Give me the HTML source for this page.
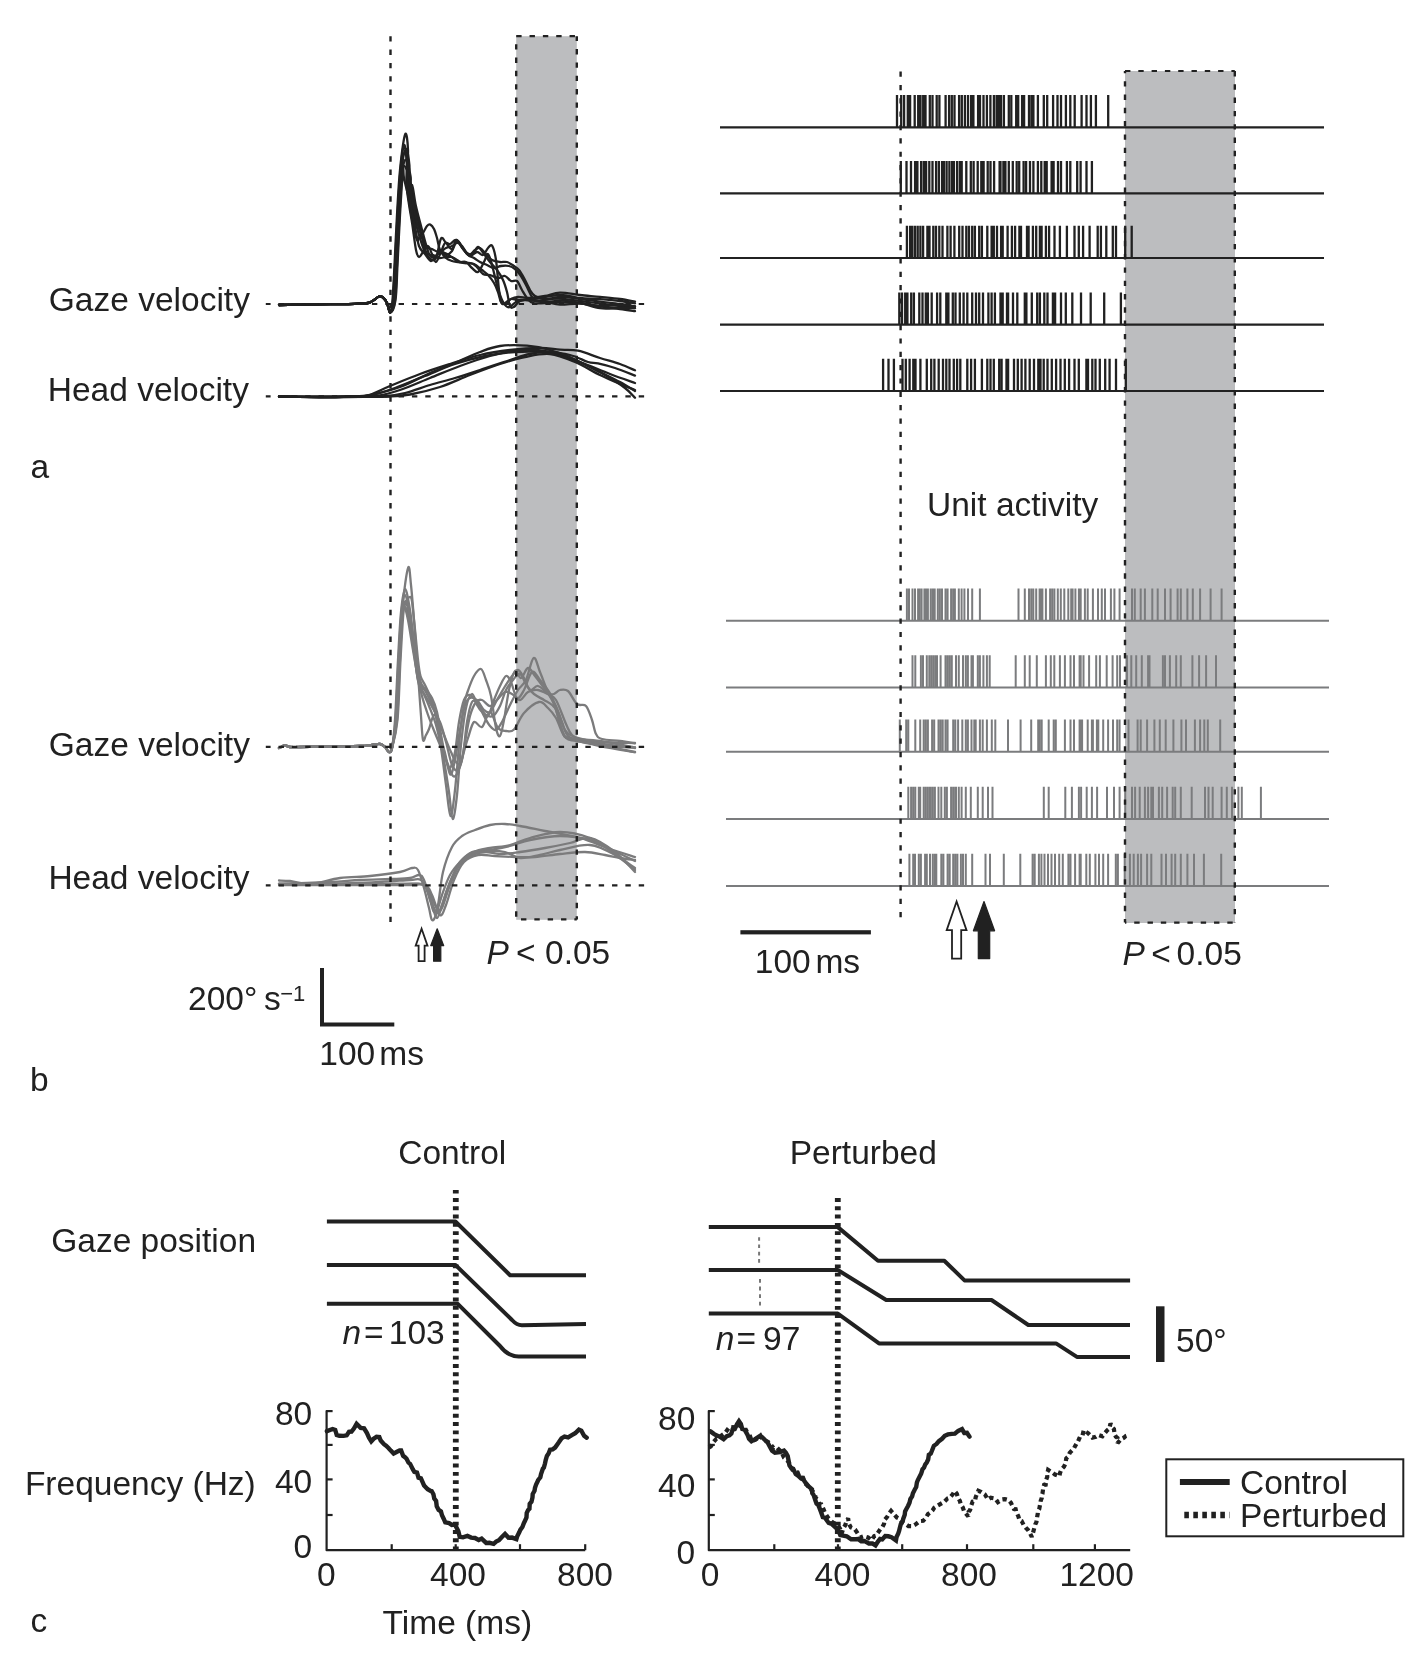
<!DOCTYPE html><html><head><meta charset="utf-8"><style>html,body{margin:0;padding:0;background:#fff;overflow:hidden}svg{display:block;will-change:transform}</style></head><body>
<svg width="1424" height="1667" viewBox="0 0 1424 1667" style="font-family:'Liberation Sans',sans-serif">
<rect width="1424" height="1667" fill="#fff"/>
<rect x="516.2" y="36.2" width="60.6" height="883.6" fill="#bcbdbf"/>
<rect x="1125" y="71" width="110" height="852" fill="#bcbdbf"/>
<path d="M279,305 C282.5,304.93 291.5,304.73 300,304.6 C308.5,304.47 320.83,304.33 330,304.2 C339.17,304.07 348.67,304 355,303.8 C361.33,303.6 364.83,303.63 368,303 C371.17,302.37 372.17,301.08 374,300 C375.83,298.92 377.5,296.92 379,296.5 C380.5,296.08 381.67,296.42 383,297.5 C384.33,298.58 385.77,300.5 387,303 C388.23,305.5 389.48,313 390.4,312.5 C391.32,312 391.82,307.92 392.5,300 C393.18,292.08 393.75,279.17 394.5,265 C395.25,250.83 396.08,230.83 397,215 C397.92,199.17 398.63,183.47 400,170 C401.37,156.53 403.87,137.5 405.2,134.2 C406.53,130.9 407.7,141.73 408,150.2 C408.3,158.67 406.72,175.87 407,185 C407.28,194.13 408.7,198.5 409.7,205 C410.7,211.5 411.78,218.17 413,224 C414.22,229.83 415.83,238 417,240 C418.17,242 418.92,237.33 420,236 C421.08,234.67 422.33,233.67 423.5,232 C424.67,230.33 425.87,227.23 427,226 C428.13,224.77 429.13,224.1 430.3,224.6 C431.47,225.1 432.88,226.77 434,229 C435.12,231.23 436,234.5 437,238 C438,241.5 438.5,246.67 440,250 C441.5,253.33 444,256.17 446,258 C448,259.83 450,260.33 452,261 C454,261.67 455.67,261.67 458,262 C460.33,262.33 463.33,262.67 466,263 C468.67,263.33 471.33,262.83 474,264 C476.67,265.17 479.67,268.17 482,270 C484.33,271.83 486,272.83 488,275 C490,277.17 492.33,280.17 494,283 C495.67,285.83 496.83,288.83 498,292 C499.17,295.17 499.83,300 501,302 C502.17,304 503.33,304.5 505,304 C506.67,303.5 508.83,300.17 511,299 C513.17,297.83 514.83,297.17 518,297 C521.17,296.83 525.5,298.17 530,298 C534.5,297.83 540,296.88 545,296 C550,295.12 554.17,292.87 560,292.7 C565.83,292.53 573.33,294.3 580,295 C586.67,295.7 593.33,296.23 600,296.9 C606.67,297.57 614.17,298.22 620,299 C625.83,299.78 632.5,301.17 635,301.6" fill="none" stroke="#212121" stroke-width="2.3" stroke-linejoin="round" stroke-linecap="round" />
<path d="M279,305 C282.5,304.93 291.5,304.73 300,304.6 C308.5,304.47 320.83,304.33 330,304.2 C339.17,304.07 348.67,304 355,303.8 C361.33,303.6 364.83,303.63 368,303 C371.17,302.37 372.17,301.08 374,300 C375.83,298.92 377.5,296.92 379,296.5 C380.5,296.08 381.67,296.42 383,297.5 C384.33,298.58 385.77,300.5 387,303 C388.23,305.5 389.4,313 390.4,312.5 C391.4,312 392.23,307.92 393,300 C393.77,292.08 394.25,279.17 395,265 C395.75,250.83 396.58,230.83 397.5,215 C398.42,199.17 399.42,181.67 400.5,170 C401.58,158.33 402.98,146.5 404,145 C405.02,143.5 406.23,154.33 406.65,161 C407.07,167.67 406.09,177.67 406.5,185 C406.91,192.33 408.14,198.5 409.1,205 C410.06,211.5 411.1,216.5 412.25,224 C413.4,231.5 414.88,244.5 416,250 C417.12,255.5 417.83,256.67 419,257 C420.17,257.33 421.5,253.83 423,252 C424.5,250.17 426.5,245.67 428,246 C429.5,246.33 430.67,251.33 432,254 C433.33,256.67 434.5,262.33 436,262 C437.5,261.67 439.5,255.17 441,252 C442.5,248.83 443.5,244.33 445,243 C446.5,241.67 448.17,244.5 450,244 C451.83,243.5 454,239.67 456,240 C458,240.33 460.17,243.83 462,246 C463.83,248.17 465.17,251.67 467,253 C468.83,254.33 471.17,255 473,254 C474.83,253 476.17,247 478,247 C479.83,247 482,251.5 484,254 C486,256.5 487.83,259.33 490,262 C492.17,264.67 494.83,267 497,270 C499.17,273 501.33,276.33 503,280 C504.67,283.67 505.83,287.67 507,292 C508.17,296.33 508.83,303.5 510,306 C511.17,308.5 512.33,307.83 514,307 C515.67,306.17 517,302.33 520,301 C523,299.67 525.33,300 532,299 C538.67,298 552,295.17 560,295 C568,294.83 573.33,297.3 580,298 C586.67,298.7 593.33,298.7 600,299.2 C606.67,299.7 614.17,300.3 620,301 C625.83,301.7 632.5,303 635,303.4" fill="none" stroke="#212121" stroke-width="2.3" stroke-linejoin="round" stroke-linecap="round" />
<path d="M279,305 C282.5,304.93 291.5,304.73 300,304.6 C308.5,304.47 320.83,304.33 330,304.2 C339.17,304.07 348.67,304 355,303.8 C361.33,303.6 364.83,303.63 368,303 C371.17,302.37 372.17,301.08 374,300 C375.83,298.92 377.5,296.92 379,296.5 C380.5,296.08 381.67,296.42 383,297.5 C384.33,298.58 385.77,300.5 387,303 C388.23,305.5 389.23,313 390.4,312.5 C391.57,312 393.07,307.92 394,300 C394.93,292.08 395.25,279.17 396,265 C396.75,250.83 397.58,230.83 398.5,215 C399.42,199.17 400.25,181 401.5,170 C402.75,159 404.68,149.83 406,149 C407.32,148.17 408.9,159 409.4,165 C409.9,171 408.55,178.33 409,185 C409.45,191.67 410.93,198.5 412.1,205 C413.27,211.5 414.02,216.5 416,224 C417.98,231.5 421.6,244.17 424,250 C426.4,255.83 428.4,257.67 430.4,259 C432.4,260.33 434.23,261.4 436,258 C437.77,254.6 439.33,241.1 441,238.6 C442.67,236.1 444.17,241.27 446,243 C447.83,244.73 450.25,249.5 452,249 C453.75,248.5 454.83,240.33 456.5,240 C458.17,239.67 460.08,244.5 462,247 C463.92,249.5 466,253.17 468,255 C470,256.83 472,256.83 474,258 C476,259.17 477.83,260.83 480,262 C482.17,263.17 484.67,264 487,265 C489.33,266 491.67,267.83 494,268 C496.33,268.17 498.5,266.33 501,266 C503.5,265.67 506.67,265.5 509,266 C511.33,266.5 513,267.33 515,269 C517,270.67 519,273 521,276 C523,279 525.17,283.5 527,287 C528.83,290.5 530.17,294.67 532,297 C533.83,299.33 533.33,301.02 538,301 C542.67,300.98 553,297.23 560,296.9 C567,296.57 573.33,298.22 580,299 C586.67,299.78 593.33,300.77 600,301.6 C606.67,302.43 614.17,303.2 620,304 C625.83,304.8 632.5,306 635,306.4" fill="none" stroke="#212121" stroke-width="2.3" stroke-linejoin="round" stroke-linecap="round" />
<path d="M279,305 C282.5,304.93 291.5,304.73 300,304.6 C308.5,304.47 320.83,304.33 330,304.2 C339.17,304.07 348.67,304 355,303.8 C361.33,303.6 364.83,303.63 368,303 C371.17,302.37 372.17,301.08 374,300 C375.83,298.92 377.5,296.92 379,296.5 C380.5,296.08 381.67,296.42 383,297.5 C384.33,298.58 385.77,300.5 387,303 C388.23,305.5 389.32,313 390.4,312.5 C391.48,312 392.65,307.92 393.5,300 C394.35,292.08 394.75,279.17 395.5,265 C396.25,250.83 397.08,230.83 398,215 C398.92,199.17 399.83,180.5 401,170 C402.17,159.5 403.82,152.33 405,152 C406.18,151.67 407.6,162.5 408.1,168 C408.6,173.5 407.53,178.83 408,185 C408.47,191.17 409.82,198.5 410.9,205 C411.98,211.5 413.15,217.17 414.5,224 C415.85,230.83 417.25,241 419,246 C420.75,251 423,251.5 425,254 C427,256.5 429.17,260.67 431,261 C432.83,261.33 434.33,257.67 436,256 C437.67,254.33 439.33,251.17 441,251 C442.67,250.83 444.17,255 446,255 C447.83,255 450.17,253.33 452,251 C453.83,248.67 455.17,241.33 457,241 C458.83,240.67 461,246.67 463,249 C465,251.33 467,254.83 469,255 C471,255.17 473.17,251.17 475,250 C476.83,248.83 478.17,247.33 480,248 C481.83,248.67 484,252 486,254 C488,256 489.67,258.67 492,260 C494.33,261.33 497.5,261.67 500,262 C502.5,262.33 504.67,261.33 507,262 C509.33,262.67 512,264.67 514,266 C516,267.33 517.33,268 519,270 C520.67,272 522.17,274.67 524,278 C525.83,281.33 528.17,287 530,290 C531.83,293 532.5,294.5 535,296 C537.5,297.5 540.83,298.57 545,299 C549.17,299.43 554.17,298.27 560,298.6 C565.83,298.93 573.33,300.2 580,301 C586.67,301.8 593.33,302.57 600,303.4 C606.67,304.23 614.17,305.2 620,306 C625.83,306.8 632.5,307.83 635,308.2" fill="none" stroke="#212121" stroke-width="2.3" stroke-linejoin="round" stroke-linecap="round" />
<path d="M279,305 C282.5,304.93 291.5,304.73 300,304.6 C308.5,304.47 320.83,304.33 330,304.2 C339.17,304.07 348.67,304 355,303.8 C361.33,303.6 364.83,303.63 368,303 C371.17,302.37 372.17,301.08 374,300 C375.83,298.92 377.5,296.92 379,296.5 C380.5,296.08 381.67,296.42 383,297.5 C384.33,298.58 385.77,300.5 387,303 C388.23,305.5 389.07,313 390.4,312.5 C391.73,312 393.9,307.92 395,300 C396.1,292.08 396.25,279.17 397,265 C397.75,250.83 398.58,230.83 399.5,215 C400.42,199.17 401.33,179.17 402.5,170 C403.67,160.83 405.17,159 406.5,160 C407.83,161 409.75,171.83 410.5,176 C411.25,180.17 410.33,180.17 411,185 C411.67,189.83 413.17,198.5 414.5,205 C415.83,211.5 417.08,216.17 419,224 C420.92,231.83 423.67,246.83 426,252 C428.33,257.17 430.83,254 433,255 C435.17,256 436.83,257.67 439,258 C441.17,258.33 443.83,257.17 446,257 C448.17,256.83 450.17,256.5 452,257 C453.83,257.5 455.17,259 457,260 C458.83,261 460.83,262.5 463,263 C465.17,263.5 467.83,262.5 470,263 C472.17,263.5 473.83,264.17 476,266 C478.17,267.83 480.67,272.5 483,274 C485.33,275.5 487.5,274.33 490,275 C492.5,275.67 495.5,277.83 498,278 C500.5,278.17 502.83,275.5 505,276 C507.17,276.5 509,280.17 511,281 C513,281.83 515.17,279.5 517,281 C518.83,282.5 520.33,287.17 522,290 C523.67,292.83 525.17,295.83 527,298 C528.83,300.17 530,302.17 533,303 C536,303.83 540.5,303.43 545,303 C549.5,302.57 554.17,300.4 560,300.4 C565.83,300.4 573.33,302 580,303 C586.67,304 593.33,305.4 600,306.4 C606.67,307.4 614.17,308.2 620,309 C625.83,309.8 632.5,310.83 635,311.2" fill="none" stroke="#212121" stroke-width="2.3" stroke-linejoin="round" stroke-linecap="round" />
<path d="M279,305 C282.5,304.93 291.5,304.73 300,304.6 C308.5,304.47 320.83,304.33 330,304.2 C339.17,304.07 348.67,304 355,303.8 C361.33,303.6 364.83,303.63 368,303 C371.17,302.37 372.17,301.08 374,300 C375.83,298.92 377.5,296.92 379,296.5 C380.5,296.08 381.67,296.42 383,297.5 C384.33,298.58 385.77,300.5 387,303 C388.23,305.5 389.15,313 390.4,312.5 C391.65,312 393.48,307.92 394.5,300 C395.52,292.08 395.75,279.17 396.5,265 C397.25,250.83 398.08,230.83 399,215 C399.92,199.17 400.67,177.5 402,170 C403.33,162.5 405.55,167.33 407,170 C408.45,172.67 410.2,183.5 410.7,186 C411.2,188.5 409.57,181.83 410,185 C410.43,188.17 412.05,198.5 413.3,205 C414.55,211.5 415.38,217.17 417.5,224 C419.62,230.83 423.58,241.83 426,246 C428.42,250.17 429.83,248 432,249 C434.17,250 436.67,252.17 439,252 C441.33,251.83 443.83,249 446,248 C448.17,247 450,246.83 452,246 C454,245.17 456,242.33 458,243 C460,243.67 462,247.83 464,250 C466,252.17 467.83,255.67 470,256 C472.17,256.33 474.83,252.17 477,252 C479.17,251.83 481.17,255.67 483,255 C484.83,254.33 486.47,249.53 488,248 C489.53,246.47 490.87,243.8 492.2,245.8 C493.53,247.8 494.87,252.63 496,260 C497.13,267.37 498.08,282.83 499,290 C499.92,297.17 500.5,300.83 501.5,303 C502.5,305.17 503.42,303.67 505,303 C506.58,302.33 508.83,299.5 511,299 C513.17,298.5 514.83,299.83 518,300 C521.17,300.17 523,299.63 530,300 C537,300.37 551.67,301.7 560,302.2 C568.33,302.7 573.33,302 580,303 C586.67,304 593.33,307.37 600,308.2 C606.67,309.03 614.17,308 620,308 C625.83,308 632.5,308.17 635,308.2" fill="none" stroke="#212121" stroke-width="2.3" stroke-linejoin="round" stroke-linecap="round" />
<path d="M279,305 C282.5,304.93 291.5,304.73 300,304.6 C308.5,304.47 320.83,304.33 330,304.2 C339.17,304.07 348.67,304 355,303.8 C361.33,303.6 364.83,303.63 368,303 C371.17,302.37 372.17,301.08 374,300 C375.83,298.92 377.5,296.92 379,296.5 C380.5,296.08 381.67,296.42 383,297.5 C384.33,298.58 385.77,300.5 387,303 C388.23,305.5 388.98,313 390.4,312.5 C391.82,312 394.32,307.92 395.5,300 C396.68,292.08 396.75,279.17 397.5,265 C398.25,250.83 399.08,230.83 400,215 C400.92,199.17 402.33,176.17 403,170 C403.67,163.83 403.12,174 404,178 C404.88,182 406.97,192.83 408.3,194 C409.63,195.17 410.77,183.17 412,185 C413.23,186.83 414.28,198.5 415.7,205 C417.12,211.5 418.28,215.83 420.5,224 C422.72,232.17 426.58,248.67 429,254 C431.42,259.33 433,256.33 435,256 C437,255.67 439,252.33 441,252 C443,251.67 445,253 447,254 C449,255 451,256.67 453,258 C455,259.33 456.83,261.33 459,262 C461.17,262.67 463.83,261 466,262 C468.17,263 470,266.33 472,268 C474,269.67 476,273 478,272 C480,271 482.33,265 484,262 C485.67,259 486.67,253.5 488,254 C489.33,254.5 490.5,259.83 492,265 C493.5,270.17 495.33,279.17 497,285 C498.67,290.83 500.5,296.5 502,300 C503.5,303.5 504.67,304.83 506,306 C507.33,307.17 508.33,307.67 510,307 C511.67,306.33 513.5,303.17 516,302 C518.5,300.83 520.17,300 525,300 C529.83,300 539.17,301.23 545,302 C550.83,302.77 554.17,304.35 560,304.6 C565.83,304.85 573.33,303.27 580,303.5 C586.67,303.73 593.33,305.75 600,306 C606.67,306.25 614.17,304.93 620,305 C625.83,305.07 632.5,306.17 635,306.4" fill="none" stroke="#212121" stroke-width="2.3" stroke-linejoin="round" stroke-linecap="round" />
<path d="M279,396.5 C285.83,396.58 308.17,397 320,397 C331.83,397 342,396.75 350,396.5 C358,396.25 361.33,397.25 368,395.5 C374.67,393.75 381.33,389.58 390,386 C398.67,382.42 410,377.67 420,374 C430,370.33 440,367.17 450,364 C460,360.83 470,357.33 480,355 C490,352.67 500,351.17 510,350 C520,348.83 531.67,348.05 540,348 C548.33,347.95 553.67,349.27 560,349.7 C566.33,350.13 571.33,349.22 578,350.6 C584.67,351.98 593,355.77 600,358 C607,360.23 614.17,361.95 620,364 C625.83,366.05 632.5,369.25 635,370.3" fill="none" stroke="#212121" stroke-width="2.3" stroke-linejoin="round" stroke-linecap="round" />
<path d="M279,396.5 C285.83,396.58 307.83,397 320,397 C332.17,397 343.67,396.75 352,396.5 C360.33,396.25 362.83,396.92 370,395.5 C377.17,394.08 385.83,391.25 395,388 C404.17,384.75 415,380 425,376 C435,372 445,367.33 455,364 C465,360.67 475,358 485,356 C495,354 505,352.67 515,352 C525,351.33 535.83,351.5 545,352 C554.17,352.5 562.83,353.33 570,355 C577.17,356.67 583.33,360.6 588,362 C592.67,363.4 593.5,362.4 598,363.4 C602.5,364.4 608.83,365.97 615,368 C621.17,370.03 631.67,374.33 635,375.6" fill="none" stroke="#212121" stroke-width="2.3" stroke-linejoin="round" stroke-linecap="round" />
<path d="M279,396.5 C285.83,396.58 307.33,397 320,397 C332.67,397 345.67,396.67 355,396.5 C364.33,396.33 368.5,397.08 376,396 C383.5,394.92 391,393 400,390 C409,387 420,382 430,378 C440,374 450,369.67 460,366 C470,362.33 480,358.67 490,356 C500,353.33 510,350.67 520,350 C530,349.33 540,350 550,352 C560,354 570,358.33 580,362 C590,365.67 600.83,370.5 610,374 C619.17,377.5 630.83,381.5 635,383" fill="none" stroke="#212121" stroke-width="2.3" stroke-linejoin="round" stroke-linecap="round" />
<path d="M279,396.5 C285.83,396.58 308.17,397 320,397 C331.83,397 341.67,396.83 350,396.5 C358.33,396.17 361.67,396.58 370,395 C378.33,393.42 390,390.67 400,387 C410,383.33 420.83,377 430,373 C439.17,369 446.67,366.5 455,363 C463.33,359.5 472.5,354.83 480,352 C487.5,349.17 492.17,347.05 500,346 C507.83,344.95 518.67,345.03 527,345.7 C535.33,346.37 542,347.62 550,350 C558,352.38 566.67,356.33 575,360 C583.33,363.67 592.5,368.33 600,372 C607.5,375.67 614.17,378.83 620,382 C625.83,385.17 632.5,389.5 635,391" fill="none" stroke="#212121" stroke-width="2.3" stroke-linejoin="round" stroke-linecap="round" />
<path d="M279,396.5 C285.83,396.58 306.5,396.95 320,397 C333.5,397.05 349.67,396.88 360,396.8 C370.33,396.72 374.5,397.13 382,396.5 C389.5,395.87 397,394.92 405,393 C413,391.08 421.67,387.5 430,385 C438.33,382.5 446.67,380.5 455,378 C463.33,375.5 470.83,373 480,370 C489.17,367 501.67,362.67 510,360 C518.33,357.33 522.5,355.33 530,354 C537.5,352.67 546.67,350.67 555,352 C563.33,353.33 571.67,358.17 580,362 C588.33,365.83 597.5,370.67 605,375 C612.5,379.33 620,384.2 625,388 C630,391.8 633.33,396.17 635,397.8" fill="none" stroke="#212121" stroke-width="2.3" stroke-linejoin="round" stroke-linecap="round" />
<path d="M279,396.5 C285.83,396.58 305.67,396.95 320,397 C334.33,397.05 353.67,396.88 365,396.8 C376.33,396.72 380.5,396.88 388,396.5 C395.5,396.12 401.33,396.08 410,394.5 C418.67,392.92 430,390.25 440,387 C450,383.75 460,378.83 470,375 C480,371.17 490.83,367 500,364 C509.17,361 516.67,358.67 525,357 C533.33,355.33 541.67,353.17 550,354 C558.33,354.83 566.67,358.5 575,362 C583.33,365.5 592.5,371.33 600,375 C607.5,378.67 614.17,381.5 620,384 C625.83,386.5 632.5,389 635,390" fill="none" stroke="#212121" stroke-width="2.3" stroke-linejoin="round" stroke-linecap="round" />
<path d="M279,748 C280,747.58 283.17,745.67 285,745.5 C286.83,745.33 287.5,746.75 290,747 C292.5,747.25 293.33,747.08 300,747 C306.67,746.92 320,746.67 330,746.5 C340,746.33 353,746.25 360,746 C367,745.75 368.67,745.33 372,745 C375.33,744.67 377.83,743.67 380,744 C382.17,744.33 383.5,745.67 385,747 C386.5,748.33 387.83,751.83 389,752 C390.17,752.17 390.83,753.33 392,748 C393.17,742.67 394.83,734.67 396,720 C397.17,705.33 398,678 399,660 C400,642 400.48,627.35 402,612 C403.52,596.65 406.6,572.4 408.1,567.9 C409.6,563.4 410.02,576.32 411,585 C411.98,593.68 413,607.5 414,620 C415,632.5 416.17,648.67 417,660 C417.83,671.33 418.33,678.67 419,688 C419.67,697.33 420.33,707.33 421,716 C421.67,724.67 422.17,736.83 423,740 C423.83,743.17 425,736.83 426,735 C427,733.17 427.67,732.33 429,729 C430.33,725.67 432.17,716.17 434,715 C435.83,713.83 438,717.5 440,722 C442,726.5 444,734.83 446,742 C448,749.17 450,760.33 452,765 C454,769.67 456.17,771.67 458,770 C459.83,768.33 461.5,763 463,755 C464.5,747 465.5,730.83 467,722 C468.5,713.17 470.17,705 472,702 C473.83,699 476,701.67 478,704 C480,706.33 482,712.33 484,716 C486,719.67 488,723.67 490,726 C492,728.33 494,730.67 496,730 C498,729.33 499.67,726.17 502,722 C504.33,717.83 507.33,710.33 510,705 C512.67,699.67 515.33,694.17 518,690 C520.67,685.83 523.4,685.33 526,680 C528.6,674.67 531.27,659.33 533.6,658 C535.93,656.67 537.6,666.33 540,672 C542.4,677.67 545.33,686.33 548,692 C550.67,697.67 553.67,701 556,706 C558.33,711 560,717 562,722 C564,727 565,733 568,736 C571,739 573,738.5 580,740 C587,741.5 600.83,743.67 610,745 C619.17,746.33 630.83,747.5 635,748" fill="none" stroke="#7b7b7c" stroke-width="2.3" stroke-linejoin="round" stroke-linecap="round" />
<path d="M279,748 C280,747.58 283.17,745.67 285,745.5 C286.83,745.33 287.5,746.75 290,747 C292.5,747.25 293.33,747.08 300,747 C306.67,746.92 320,746.67 330,746.5 C340,746.33 353,746.25 360,746 C367,745.75 368.67,745.33 372,745 C375.33,744.67 377.83,743.67 380,744 C382.17,744.33 383.5,745.67 385,747 C386.5,748.33 387.83,751.83 389,752 C390.17,752.17 391,753.33 392,748 C393,742.67 394,734.67 395,720 C396,705.33 397,678 398,660 C399,642 399.83,623.83 401,612 C402.17,600.17 403.5,589.33 405,589 C406.5,588.67 408.5,600.67 410,610 C411.5,619.33 412.67,633.33 414,645 C415.33,656.67 416.23,672.5 418,680 C419.77,687.5 422.6,686.67 424.6,690 C426.6,693.33 428.27,696.33 430,700 C431.73,703.67 433.33,705.83 435,712 C436.67,718.17 438.5,729 440,737 C441.5,745 442.5,750.83 444,760 C445.5,769.17 447.55,782.17 449,792 C450.45,801.83 451.37,818.5 452.7,819 C454.03,819.5 455.62,807.33 457,795 C458.38,782.67 459.5,759.5 461,745 C462.5,730.5 464.17,716.5 466,708 C467.83,699.5 470.17,694.5 472,694 C473.83,693.5 475.33,702 477,705 C478.67,708 480.17,710.17 482,712 C483.83,713.83 486,718 488,716 C490,714 492,705 494,700 C496,695 498,690 500,686 C502,682 504.17,676.67 506,676 C507.83,675.33 509.17,678.33 511,682 C512.83,685.67 514.83,696.67 517,698 C519.17,699.33 521.5,694.33 524,690 C526.5,685.67 529.33,673.67 532,672 C534.67,670.33 536.67,675.83 540,680 C543.33,684.17 548.67,689.67 552,697 C555.33,704.33 557.67,717.17 560,724 C562.33,730.83 563.17,735.17 566,738 C568.83,740.83 569.67,739.67 577,741 C584.33,742.33 600.33,744.92 610,746 C619.67,747.08 630.83,747.25 635,747.5" fill="none" stroke="#7b7b7c" stroke-width="2.3" stroke-linejoin="round" stroke-linecap="round" />
<path d="M279,748 C280,747.58 283.17,745.67 285,745.5 C286.83,745.33 287.5,746.75 290,747 C292.5,747.25 293.33,747.08 300,747 C306.67,746.92 320,746.67 330,746.5 C340,746.33 353,746.25 360,746 C367,745.75 368.67,745.33 372,745 C375.33,744.67 377.83,743.67 380,744 C382.17,744.33 383.5,745.67 385,747 C386.5,748.33 387.83,751.83 389,752 C390.17,752.17 390.67,753.33 392,748 C393.33,742.67 395.67,734.67 397,720 C398.33,705.33 399,678 400,660 C401,642 401.23,622.5 403,612 C404.77,601.5 408.77,595.67 410.6,597 C412.43,598.33 412.77,609.5 414,620 C415.23,630.5 416.92,650.67 418,660 C419.08,669.33 419.33,671.83 420.5,676 C421.67,680.17 423.42,681.67 425,685 C426.58,688.33 428.33,691.5 430,696 C431.67,700.5 433.33,705.33 435,712 C436.67,718.67 438.33,729.17 440,736 C441.67,742.83 443.3,746.58 445,753 C446.7,759.42 448.53,773.33 450.2,774.5 C451.87,775.67 453.37,767.42 455,760 C456.63,752.58 458.33,739.17 460,730 C461.67,720.83 463.33,710.33 465,705 C466.67,699.67 468,698.83 470,698 C472,697.17 474.67,698 477,700 C479.33,702 481.83,708 484,710 C486.17,712 487.83,713.67 490,712 C492.17,710.33 494.67,704 497,700 C499.33,696 501.5,692 504,688 C506.5,684 509.67,679 512,676 C514.33,673 516,669.67 518,670 C520,670.33 522,674.67 524,678 C526,681.33 527.67,688.67 530,690 C532.33,691.33 535,685.33 538,686 C541,686.67 545,691.67 548,694 C551,696.33 553,695 556,700 C559,705 563.33,718.17 566,724 C568.67,729.83 568.83,732 572,735 C575.17,738 578.67,740 585,742 C591.33,744 601.67,745.33 610,747 C618.33,748.67 630.83,751.17 635,752" fill="none" stroke="#7b7b7c" stroke-width="2.3" stroke-linejoin="round" stroke-linecap="round" />
<path d="M279,748 C280,747.58 283.17,745.67 285,745.5 C286.83,745.33 287.5,746.75 290,747 C292.5,747.25 293.33,747.08 300,747 C306.67,746.92 320,746.67 330,746.5 C340,746.33 353,746.25 360,746 C367,745.75 368.67,745.33 372,745 C375.33,744.67 377.83,743.67 380,744 C382.17,744.33 383.5,745.67 385,747 C386.5,748.33 387.83,751.83 389,752 C390.17,752.17 390.75,753.33 392,748 C393.25,742.67 395.25,734.67 396.5,720 C397.75,705.33 398.5,678 399.5,660 C400.5,642 401.25,620.33 402.5,612 C403.75,603.67 405.58,607 407,610 C408.42,613 409.67,621.67 411,630 C412.33,638.33 413.67,650.83 415,660 C416.33,669.17 417.33,679.17 419,685 C420.67,690.83 423,691.67 425,695 C427,698.33 429,701.5 431,705 C433,708.5 435.33,712.33 437,716 C438.67,719.67 439.5,723 441,727 C442.5,731 444.33,735.83 446,740 C447.67,744.17 449.33,748.33 451,752 C452.67,755.67 454.35,760.17 456,762 C457.65,763.83 459.4,766.33 460.9,763 C462.4,759.67 463.48,749.83 465,742 C466.52,734.17 468.17,722.67 470,716 C471.83,709.33 474,704.67 476,702 C478,699.33 479.67,699.33 482,700 C484.33,700.67 487.5,706 490,706 C492.5,706 494.5,702.33 497,700 C499.5,697.67 502.5,693 505,692 C507.5,691 509.5,692.67 512,694 C514.5,695.33 517.33,700.33 520,700 C522.67,699.67 525,693.67 528,692 C531,690.33 534.67,689.67 538,690 C541.33,690.33 545.33,693.33 548,694 C550.67,694.67 552,694.67 554,694 C556,693.33 557.67,690.5 560,690 C562.33,689.5 565.17,688.67 568,691 C570.83,693.33 574,701.5 577,704 C580,706.5 583.5,703.33 586,706 C588.5,708.67 590.33,715.33 592,720 C593.67,724.67 594.33,730.83 596,734 C597.67,737.17 598,737.83 602,739 C606,740.17 614.5,740.28 620,741 C625.5,741.72 632.5,742.92 635,743.3" fill="none" stroke="#7b7b7c" stroke-width="2.3" stroke-linejoin="round" stroke-linecap="round" />
<path d="M279,748 C280,747.58 283.17,745.67 285,745.5 C286.83,745.33 287.5,746.75 290,747 C292.5,747.25 293.33,747.08 300,747 C306.67,746.92 320,746.67 330,746.5 C340,746.33 353,746.25 360,746 C367,745.75 368.67,745.33 372,745 C375.33,744.67 377.83,743.67 380,744 C382.17,744.33 383.5,745.67 385,747 C386.5,748.33 387.83,751.83 389,752 C390.17,752.17 390.58,753.33 392,748 C393.42,742.67 396.08,734.67 397.5,720 C398.92,705.33 399.5,678 400.5,660 C401.5,642 402.58,621.67 403.5,612 C404.42,602.33 404.75,599.83 406,602 C407.25,604.17 409.33,615 411,625 C412.67,635 414.33,650.83 416,662 C417.67,673.17 419.17,683.67 421,692 C422.83,700.33 425,706 427,712 C429,718 430.83,722.5 433,728 C435.17,733.5 437.67,739.33 440,745 C442.33,750.67 444.83,756.83 447,762 C449.17,767.17 451.17,774.33 453,776 C454.83,777.67 456.33,775.5 458,772 C459.67,768.5 461.33,760.67 463,755 C464.67,749.33 466.17,743.5 468,738 C469.83,732.5 471.67,723.83 474,722 C476.33,720.17 479.33,728.67 482,727 C484.67,725.33 487.33,711.83 490,712 C492.67,712.17 495.33,724.83 498,728 C500.67,731.17 503.33,730.75 506,731 C508.67,731.25 511,732.5 514,729.5 C517,726.5 519.83,717.58 524,713 C528.17,708.42 535,702.83 539,702 C543,701.17 545.17,705.33 548,708 C550.83,710.67 553.5,713.67 556,718 C558.5,722.33 560.67,730.5 563,734 C565.33,737.5 563.83,737 570,739 C576.17,741 589.17,743.8 600,746 C610.83,748.2 629.17,751.17 635,752.2" fill="none" stroke="#7b7b7c" stroke-width="2.3" stroke-linejoin="round" stroke-linecap="round" />
<path d="M279,748 C280,747.58 283.17,745.67 285,745.5 C286.83,745.33 287.5,746.75 290,747 C292.5,747.25 293.33,747.08 300,747 C306.67,746.92 320,746.67 330,746.5 C340,746.33 353,746.25 360,746 C367,745.75 368.67,745.33 372,745 C375.33,744.67 377.83,743.67 380,744 C382.17,744.33 383.5,745.67 385,747 C386.5,748.33 387.83,751.83 389,752 C390.17,752.17 390.92,753.33 392,748 C393.08,742.67 394.42,734.67 395.5,720 C396.58,705.33 397.5,678 398.5,660 C399.5,642 400.42,622.83 401.5,612 C402.58,601.17 403.58,594.5 405,595 C406.42,595.5 408.33,606.17 410,615 C411.67,623.83 413.33,637.17 415,648 C416.67,658.83 418.17,673 420,680 C421.83,687 424,687 426,690 C428,693 430.17,694.33 432,698 C433.83,701.67 435.33,705 437,712 C438.67,719 440.5,732 442,740 C443.5,748 444.67,755.33 446,760 C447.33,764.67 448.5,769.33 450,768 C451.5,766.67 453.5,759.67 455,752 C456.5,744.33 457.5,730.67 459,722 C460.5,713.33 462.17,704.5 464,700 C465.83,695.5 467.83,694.67 470,695 C472.17,695.33 474.5,698.83 477,702 C479.5,705.17 482.33,711.67 485,714 C487.67,716.33 490.5,717.33 493,716 C495.5,714.67 497.83,710.33 500,706 C502.17,701.67 503.83,694.33 506,690 C508.17,685.67 510.67,682.67 513,680 C515.33,677.33 517.67,673 520,674 C522.33,675 524.67,682.67 527,686 C529.33,689.33 531.17,691.67 534,694 C536.83,696.33 541,698.17 544,700 C547,701.83 549.67,703 552,705 C554.33,707 555.83,707.83 558,712 C560.17,716.17 562.17,725.83 565,730 C567.83,734.17 569.17,735 575,737 C580.83,739 590,741 600,742 C610,743 629.17,742.83 635,743" fill="none" stroke="#7b7b7c" stroke-width="2.3" stroke-linejoin="round" stroke-linecap="round" />
<path d="M279,748 C280,747.58 283.17,745.67 285,745.5 C286.83,745.33 287.5,746.75 290,747 C292.5,747.25 293.33,747.08 300,747 C306.67,746.92 320,746.67 330,746.5 C340,746.33 353,746.25 360,746 C367,745.75 368.67,745.33 372,745 C375.33,744.67 377.83,743.67 380,744 C382.17,744.33 383.5,745.67 385,747 C386.5,748.33 387.83,751.83 389,752 C390.17,752.17 390.83,753.33 392,748 C393.17,742.67 394.83,734.67 396,720 C397.17,705.33 398,678 399,660 C400,642 401.17,621.17 402,612 C402.83,602.83 403,603.67 404,605 C405,606.33 406.5,612.5 408,620 C409.5,627.5 411.33,640.33 413,650 C414.67,659.67 416.33,671 418,678 C419.67,685 421.17,687.33 423,692 C424.83,696.67 426.83,700.5 429,706 C431.17,711.5 434,718 436,725 C438,732 439.33,738 441,748 C442.67,758 444.42,773.67 446,785 C447.58,796.33 449,815.17 450.5,816 C452,816.83 453.42,803.5 455,790 C456.58,776.5 458.5,749.17 460,735 C461.5,720.83 462.75,712.17 464,705 C465.25,697.83 465.83,696.83 467.5,692 C469.17,687.17 471.75,679.83 474,676 C476.25,672.17 479,668.33 481,669 C483,669.67 484.33,675.5 486,680 C487.67,684.5 489.33,688 491,696 C492.67,704 494.5,721.33 496,728 C497.5,734.67 498.67,737.33 500,736 C501.33,734.67 502.5,727.67 504,720 C505.5,712.33 507.17,698.17 509,690 C510.83,681.83 513,673 515,671 C517,669 518.83,678.5 521,678 C523.17,677.5 525.67,668.33 528,668 C530.33,667.67 532.33,672.67 535,676 C537.67,679.33 541.17,684 544,688 C546.83,692 549.67,695.33 552,700 C554.33,704.67 556.17,710.5 558,716 C559.83,721.5 561.17,729.33 563,733 C564.83,736.67 562.83,736.67 569,738 C575.17,739.33 589,739.42 600,741 C611,742.58 629.17,746.42 635,747.5" fill="none" stroke="#7b7b7c" stroke-width="2.3" stroke-linejoin="round" stroke-linecap="round" />
<path d="M279,884 C285.83,884 304.83,884 320,884 C335.17,884 355,884 370,884 C385,884 401,883.83 410,884 C419,884.17 420.67,882.33 424,885 C427.33,887.67 428.33,895.5 430,900 C431.67,904.5 432.67,911.17 434,912 C435.33,912.83 436.5,911.67 438,905 C439.5,898.33 440.67,881.67 443,872 C445.33,862.33 448.83,853 452,847 C455.17,841 458.17,838.83 462,836 C465.83,833.17 470.33,831.83 475,830 C479.67,828.17 485,826 490,825 C495,824 500,823.83 505,824 C510,824.17 513.33,824.83 520,826 C526.67,827.17 535,829 545,831 C555,833 569.17,835 580,838 C590.83,841 600.83,845.83 610,849 C619.17,852.17 630.83,855.67 635,857" fill="none" stroke="#7b7b7c" stroke-width="2.3" stroke-linejoin="round" stroke-linecap="round" />
<path d="M279,880.5 C280.83,880.58 284.83,880.42 290,881 C295.17,881.58 301.67,884.5 310,884 C318.33,883.5 330,879.33 340,878 C350,876.67 360,877 370,876 C380,875 393,873.33 400,872 C407,870.67 409,868.33 412,868 C415,867.67 416,866.67 418,870 C420,873.33 422.17,881.67 424,888 C425.83,894.33 427.67,902.67 429,908 C430.33,913.33 430.83,918.83 432,920 C433.17,921.17 434.33,919.17 436,915 C437.67,910.83 439.67,901.67 442,895 C444.33,888.33 447,880.5 450,875 C453,869.5 456.33,865.83 460,862 C463.67,858.17 467,854 472,852 C477,850 483.67,851 490,850 C496.33,849 503.33,847.67 510,846 C516.67,844.33 521.67,841.67 530,840 C538.33,838.33 550,836 560,836 C570,836 581.33,837.67 590,840 C598.67,842.33 604.5,846.5 612,850 C619.5,853.5 631.17,859.17 635,861" fill="none" stroke="#7b7b7c" stroke-width="2.3" stroke-linejoin="round" stroke-linecap="round" />
<path d="M279,884 C287.5,883.67 316.5,882.67 330,882 C343.5,881.33 350,880.5 360,880 C370,879.5 381.67,879.33 390,879 C398.33,878.67 405.17,878.67 410,878 C414.83,877.33 416.67,874.67 419,875 C421.33,875.33 421.83,875 424,880 C426.17,885 429.83,898.67 432,905 C434.17,911.33 435.33,918 437,918 C438.67,918 439.83,911 442,905 C444.17,899 447,889.17 450,882 C453,874.83 456.33,866.83 460,862 C463.67,857.17 467.33,854.83 472,853 C476.67,851.17 482.5,851.17 488,851 C493.5,850.83 499.67,850.83 505,852 C510.33,853.17 514.17,857.5 520,858 C525.83,858.5 533.33,856.33 540,855 C546.67,853.67 551.67,851.67 560,850 C568.33,848.33 580.83,844.17 590,845 C599.17,845.83 607.5,850.83 615,855 C622.5,859.17 631.67,867.5 635,870" fill="none" stroke="#7b7b7c" stroke-width="2.3" stroke-linejoin="round" stroke-linecap="round" />
<path d="M279,884 C289.17,884 319.83,884 340,884 C360.17,884 386.67,884 400,884 C413.33,884 415.33,883 420,884 C424.67,885 425.5,886.5 428,890 C430.5,893.5 433,901.67 435,905 C437,908.33 438,912.5 440,910 C442,907.5 444.17,897 447,890 C449.83,883 453.17,873.67 457,868 C460.83,862.33 465.33,858.67 470,856 C474.67,853.33 480,852.33 485,852 C490,851.67 494.17,854 500,854 C505.83,854 512.5,853 520,852 C527.5,851 536.67,849.5 545,848 C553.33,846.5 562.5,844.67 570,843 C577.5,841.33 582.5,836.5 590,838 C597.5,839.5 607.5,846.33 615,852 C622.5,857.67 631.67,868.67 635,872" fill="none" stroke="#7b7b7c" stroke-width="2.3" stroke-linejoin="round" stroke-linecap="round" />
<path d="M279,885 C290.83,885 329,885 350,885 C371,885 392.5,885 405,885 C417.5,885 420.5,883.33 425,885 C429.5,886.67 429.5,890 432,895 C434.5,900 437.67,913.33 440,915 C442.33,916.67 443.67,910.83 446,905 C448.33,899.17 451,887.17 454,880 C457,872.83 460,866.17 464,862 C468,857.83 472.83,856 478,855 C483.17,854 488.83,855.67 495,856 C501.17,856.33 508.33,856.83 515,857 C521.67,857.17 527.5,857.5 535,857 C542.5,856.5 551.67,854.83 560,854 C568.33,853.17 577.5,851.83 585,852 C592.5,852.17 599.17,854 605,855 C610.83,856 615,857.17 620,858 C625,858.83 632.5,859.67 635,860" fill="none" stroke="#7b7b7c" stroke-width="2.3" stroke-linejoin="round" stroke-linecap="round" />
<path d="M279,884 C287.5,884 313.17,884.33 330,884 C346.83,883.67 366.67,882.67 380,882 C393.33,881.33 403.17,880.33 410,880 C416.83,879.67 418,878 421,880 C424,882 425.5,886.67 428,892 C430.5,897.33 433.67,909.33 436,912 C438.33,914.67 439.67,912.5 442,908 C444.33,903.5 447,892.33 450,885 C453,877.67 456,869.5 460,864 C464,858.5 469,854.67 474,852 C479,849.33 484,849.17 490,848 C496,846.83 503.33,846.67 510,845 C516.67,843.33 521.67,840.17 530,838 C538.33,835.83 550,832 560,832 C570,832 581.33,834.67 590,838 C598.67,841.33 604.5,847 612,852 C619.5,857 631.17,865.33 635,868" fill="none" stroke="#7b7b7c" stroke-width="2.3" stroke-linejoin="round" stroke-linecap="round" />
<path d="M897 127.3V95.1M901.2 127.3V95.1M904.1 127.3V95.1M907.8 127.3V95.1M910.1 127.3V95.1M914.7 127.3V95.1M918.2 127.3V95.1M920.5 127.3V95.1M923.2 127.3V95.1M925.5 127.3V95.1M929.8 127.3V95.1M932.5 127.3V95.1M936.7 127.3V95.1M939.4 127.3V95.1M945.6 127.3V95.1M949.1 127.3V95.1M951.8 127.3V95.1M954.5 127.3V95.1M959.1 127.3V95.1M961.8 127.3V95.1M964.9 127.3V95.1M968 127.3V95.1M971.1 127.3V95.1M973.4 127.3V95.1M978.1 127.3V95.1M980 127.3V95.1M983.5 127.3V95.1M986.9 127.3V95.1M990.4 127.3V95.1M993.9 127.3V95.1M996.6 127.3V95.1M998.9 127.3V95.1M1001 127.3V95.1M1003.9 127.3V95.1M1008.8 127.3V95.1M1011.3 127.3V95.1M1016.2 127.3V95.1M1018.2 127.3V95.1M1022.1 127.3V95.1M1024.1 127.3V95.1M1029 127.3V95.1M1031.5 127.3V95.1M1033.4 127.3V95.1M1037.9 127.3V95.1M1043.8 127.3V95.1M1047.2 127.3V95.1M1053.1 127.3V95.1M1057.5 127.3V95.1M1061 127.3V95.1M1065.9 127.3V95.1M1070.3 127.3V95.1M1074.7 127.3V95.1M1081.6 127.3V95.1M1086.5 127.3V95.1M1090.9 127.3V95.1M1095.9 127.3V95.1M1108.2 127.3V95.1" stroke="#212121" stroke-width="2.3" fill="none"/>
<line x1="720" y1="127.3" x2="1324" y2="127.3" stroke="#212121" stroke-width="2.2" />
<path d="M900.8 193.3V161.1M906.5 193.3V161.1M911 193.3V161.1M915.1 193.3V161.1M917.4 193.3V161.1M921.1 193.3V161.1M923.8 193.3V161.1M926.1 193.3V161.1M929.3 193.3V161.1M932.5 193.3V161.1M936.1 193.3V161.1M938.9 193.3V161.1M942.1 193.3V161.1M943.9 193.3V161.1M946.6 193.3V161.1M949.4 193.3V161.1M952.1 193.3V161.1M953.9 193.3V161.1M957.1 193.3V161.1M959.9 193.3V161.1M961.7 193.3V161.1M966.3 193.3V161.1M970.8 193.3V161.1M973.6 193.3V161.1M977.7 193.3V161.1M981.3 193.3V161.1M983.6 193.3V161.1M987.7 193.3V161.1M990.5 193.3V161.1M994.1 193.3V161.1M999.6 193.3V161.1M1000.5 193.3V161.1M1003.4 193.3V161.1M1005.4 193.3V161.1M1008.8 193.3V161.1M1012.8 193.3V161.1M1016.7 193.3V161.1M1019.2 193.3V161.1M1023.6 193.3V161.1M1026.1 193.3V161.1M1030 193.3V161.1M1033.4 193.3V161.1M1037.9 193.3V161.1M1041.3 193.3V161.1M1044.7 193.3V161.1M1046.7 193.3V161.1M1051.6 193.3V161.1M1053.6 193.3V161.1M1058 193.3V161.1M1061 193.3V161.1M1066.9 193.3V161.1M1070.3 193.3V161.1M1077.2 193.3V161.1M1080.6 193.3V161.1M1086.5 193.3V161.1M1091.9 193.3V161.1" stroke="#212121" stroke-width="2.3" fill="none"/>
<line x1="720" y1="193.3" x2="1324" y2="193.3" stroke="#212121" stroke-width="2.2" />
<path d="M906.9 258V225.8M910.1 258V225.8M912.3 258V225.8M915 258V225.8M917.7 258V225.8M920.4 258V225.8M923.1 258V225.8M927.4 258V225.8M929.5 258V225.8M933.3 258V225.8M936 258V225.8M939.3 258V225.8M942.5 258V225.8M947.4 258V225.8M950.6 258V225.8M954.4 258V225.8M959.2 258V225.8M962.5 258V225.8M966.3 258V225.8M969 258V225.8M972.2 258V225.8M974.9 258V225.8M979.2 258V225.8M981.9 258V225.8M987.3 258V225.8M991.6 258V225.8M993.8 258V225.8M997 258V225.8M1001.1 258V225.8M1002.7 258V225.8M1007.6 258V225.8M1011.9 258V225.8M1015.1 258V225.8M1019.4 258V225.8M1021 258V225.8M1027 258V225.8M1028.6 258V225.8M1032.9 258V225.8M1036.2 258V225.8M1039.9 258V225.8M1041.6 258V225.8M1045.9 258V225.8M1049.1 258V225.8M1054.5 258V225.8M1059.9 258V225.8M1066.9 258V225.8M1074.5 258V225.8M1078.8 258V225.8M1083.1 258V225.8M1089.6 258V225.8M1097.7 258V225.8M1100.9 258V225.8M1106.3 258V225.8M1112.8 258V225.8M1116 258V225.8M1125.2 258V225.8M1131.7 258V225.8" stroke="#212121" stroke-width="2.3" fill="none"/>
<line x1="720" y1="258" x2="1324" y2="258" stroke="#212121" stroke-width="2.2" />
<path d="M899.3 324.7V292.5M902 324.7V292.5M905.2 324.7V292.5M907.4 324.7V292.5M911.2 324.7V292.5M913.9 324.7V292.5M919.3 324.7V292.5M922.5 324.7V292.5M925.8 324.7V292.5M927.9 324.7V292.5M931.7 324.7V292.5M937.1 324.7V292.5M940.3 324.7V292.5M946.3 324.7V292.5M948.4 324.7V292.5M952.8 324.7V292.5M955.5 324.7V292.5M959.8 324.7V292.5M963.6 324.7V292.5M967.3 324.7V292.5M972.2 324.7V292.5M976 324.7V292.5M979.2 324.7V292.5M983 324.7V292.5M988.4 324.7V292.5M991.6 324.7V292.5M994.9 324.7V292.5M1000.5 324.7V292.5M1002.7 324.7V292.5M1007 324.7V292.5M1008.1 324.7V292.5M1013 324.7V292.5M1017.3 324.7V292.5M1024.8 324.7V292.5M1026.4 324.7V292.5M1031.8 324.7V292.5M1037.2 324.7V292.5M1039.9 324.7V292.5M1044.3 324.7V292.5M1047.5 324.7V292.5M1052.9 324.7V292.5M1055.1 324.7V292.5M1061 324.7V292.5M1065.8 324.7V292.5M1072.3 324.7V292.5M1081 324.7V292.5M1090.7 324.7V292.5M1104.2 324.7V292.5M1120.9 324.7V292.5" stroke="#212121" stroke-width="2.3" fill="none"/>
<line x1="720" y1="324.7" x2="1324" y2="324.7" stroke="#212121" stroke-width="2.2" />
<path d="M883.1 391V358.8M888.5 391V358.8M893.9 391V358.8M902.5 391V358.8M905.8 391V358.8M909.6 391V358.8M913.3 391V358.8M915.5 391V358.8M920.4 391V358.8M926.8 391V358.8M931.2 391V358.8M934.4 391V358.8M938.7 391V358.8M943 391V358.8M946.3 391V358.8M949.5 391V358.8M953.8 391V358.8M957.1 391V358.8M960.3 391V358.8M967.3 391V358.8M971.1 391V358.8M974.9 391V358.8M981.9 391V358.8M987.3 391V358.8M990.5 391V358.8M993.8 391V358.8M999.2 391V358.8M1001.6 391V358.8M1006.5 391V358.8M1008.1 391V358.8M1014 391V358.8M1017.8 391V358.8M1021.6 391V358.8M1025.4 391V358.8M1029.7 391V358.8M1034 391V358.8M1038.3 391V358.8M1040.5 391V358.8M1043.7 391V358.8M1047.5 391V358.8M1051.8 391V358.8M1056.1 391V358.8M1060.5 391V358.8M1064.8 391V358.8M1069.1 391V358.8M1074.5 391V358.8M1078.8 391V358.8M1086.4 391V358.8M1088 391V358.8M1092.3 391V358.8M1095.5 391V358.8M1099.8 391V358.8M1105.2 391V358.8M1109.6 391V358.8M1116 391V358.8M1125.8 391V358.8" stroke="#212121" stroke-width="2.3" fill="none"/>
<line x1="720" y1="391" x2="1324" y2="391" stroke="#212121" stroke-width="2.2" />
<path d="M906.9 620.7V588.5M909 620.7V588.5M912.5 620.7V588.5M915 620.7V588.5M918.1 620.7V588.5M919.5 620.7V588.5M921.6 620.7V588.5M924.4 620.7V588.5M926.2 620.7V588.5M927.9 620.7V588.5M930.7 620.7V588.5M932.8 620.7V588.5M934.7 620.7V588.5M937.8 620.7V588.5M939.9 620.7V588.5M942 620.7V588.5M945.5 620.7V588.5M947.6 620.7V588.5M951.1 620.7V588.5M953.2 620.7V588.5M954.9 620.7V588.5M958.8 620.7V588.5M961.6 620.7V588.5M964.4 620.7V588.5M968 620.7V588.5M972.2 620.7V588.5M979.9 620.7V588.5M1018.5 620.7V588.5M1024.8 620.7V588.5M1029 620.7V588.5M1031.2 620.7V588.5M1033.3 620.7V588.5M1036.2 620.7V588.5M1039.6 620.7V588.5M1041 620.7V588.5M1042.4 620.7V588.5M1045.9 620.7V588.5M1050.1 620.7V588.5M1052.2 620.7V588.5M1054.4 620.7V588.5M1057.8 620.7V588.5M1060.8 620.7V588.5M1064.3 620.7V588.5M1068.3 620.7V588.5M1071.2 620.7V588.5M1072.6 620.7V588.5M1075.4 620.7V588.5M1078.9 620.7V588.5M1080.7 620.7V588.5M1084.9 620.7V588.5M1087.7 620.7V588.5M1092.9 620.7V588.5M1098 620.7V588.5M1101.8 620.7V588.5M1105 620.7V588.5M1110.9 620.7V588.5M1114.4 620.7V588.5M1119.6 620.7V588.5M1132 620.7V588.5M1134.8 620.7V588.5M1140.7 620.7V588.5M1144.9 620.7V588.5M1152.3 620.7V588.5M1157.7 620.7V588.5M1165 620.7V588.5M1170.6 620.7V588.5M1177.6 620.7V588.5M1180.8 620.7V588.5M1187.4 620.7V588.5M1192.8 620.7V588.5M1200.1 620.7V588.5M1210.6 620.7V588.5M1221.6 620.7V588.5" stroke="#7b7c7e" stroke-width="2.0" fill="none"/>
<line x1="726" y1="620.7" x2="1329" y2="620.7" stroke="#7b7c7e" stroke-width="2" />
<path d="M912.5 687.4V655.2M915.3 687.4V655.2M920.9 687.4V655.2M923 687.4V655.2M926.8 687.4V655.2M929.3 687.4V655.2M931.4 687.4V655.2M933.5 687.4V655.2M935.6 687.4V655.2M937 687.4V655.2M940.6 687.4V655.2M945.5 687.4V655.2M947.6 687.4V655.2M949.7 687.4V655.2M951.8 687.4V655.2M956 687.4V655.2M958.8 687.4V655.2M963 687.4V655.2M965.8 687.4V655.2M967.9 687.4V655.2M971.5 687.4V655.2M972.9 687.4V655.2M977.8 687.4V655.2M979.9 687.4V655.2M983.4 687.4V655.2M986.9 687.4V655.2M989.7 687.4V655.2M1015.7 687.4V655.2M1024.8 687.4V655.2M1029.7 687.4V655.2M1036.8 687.4V655.2M1045.9 687.4V655.2M1050.8 687.4V655.2M1054.3 687.4V655.2M1059.9 687.4V655.2M1064.9 687.4V655.2M1070.5 687.4V655.2M1074 687.4V655.2M1079.6 687.4V655.2M1080.7 687.4V655.2M1083.5 687.4V655.2M1089.1 687.4V655.2M1096.2 687.4V655.2M1099.9 687.4V655.2M1106.7 687.4V655.2M1112.6 687.4V655.2M1117.2 687.4V655.2M1120 687.4V655.2M1127 687.4V655.2M1131.3 687.4V655.2M1136.2 687.4V655.2M1141.8 687.4V655.2M1148.1 687.4V655.2M1149.5 687.4V655.2M1162.9 687.4V655.2M1165 687.4V655.2M1169.9 687.4V655.2M1176.2 687.4V655.2M1180.8 687.4V655.2M1192.4 687.4V655.2M1199.1 687.4V655.2M1206.1 687.4V655.2M1216 687.4V655.2" stroke="#7b7c7e" stroke-width="2.0" fill="none"/>
<line x1="726" y1="687.4" x2="1329" y2="687.4" stroke="#7b7c7e" stroke-width="2" />
<path d="M899.8 751.7V719.5M906.2 751.7V719.5M908.3 751.7V719.5M915.3 751.7V719.5M920.2 751.7V719.5M923.7 751.7V719.5M925.8 751.7V719.5M927.9 751.7V719.5M932.1 751.7V719.5M934.2 751.7V719.5M938.5 751.7V719.5M940.6 751.7V719.5M942.7 751.7V719.5M945.5 751.7V719.5M947.6 751.7V719.5M953.2 751.7V719.5M955.3 751.7V719.5M958.1 751.7V719.5M962.3 751.7V719.5M965.8 751.7V719.5M967.9 751.7V719.5M971.5 751.7V719.5M974.3 751.7V719.5M975.7 751.7V719.5M979.9 751.7V719.5M982.7 751.7V719.5M986.9 751.7V719.5M991.8 751.7V719.5M995.3 751.7V719.5M1008 751.7V719.5M1020.6 751.7V719.5M1031.2 751.7V719.5M1038.2 751.7V719.5M1039.6 751.7V719.5M1041.7 751.7V719.5M1048.7 751.7V719.5M1053.7 751.7V719.5M1055.8 751.7V719.5M1064.9 751.7V719.5M1070.5 751.7V719.5M1074 751.7V719.5M1079.6 751.7V719.5M1080.7 751.7V719.5M1082.1 751.7V719.5M1087.7 751.7V719.5M1091.9 751.7V719.5M1092.9 751.7V719.5M1096.9 751.7V719.5M1098.3 751.7V719.5M1103.2 751.7V719.5M1108.1 751.7V719.5M1113 751.7V719.5M1117.2 751.7V719.5M1119.6 751.7V719.5M1128.5 751.7V719.5M1137.6 751.7V719.5M1140.7 751.7V719.5M1147.1 751.7V719.5M1154.4 751.7V719.5M1159.8 751.7V719.5M1165.7 751.7V719.5M1173.4 751.7V719.5M1181.4 751.7V719.5M1186 751.7V719.5M1194.9 751.7V719.5M1200.1 751.7V719.5M1204.3 751.7V719.5M1207.8 751.7V719.5M1220.2 751.7V719.5" stroke="#7b7c7e" stroke-width="2.0" fill="none"/>
<line x1="726" y1="751.7" x2="1329" y2="751.7" stroke="#7b7c7e" stroke-width="2" />
<path d="M908.3 818.9V786.7M911.1 818.9V786.7M913.2 818.9V786.7M915.3 818.9V786.7M918.8 818.9V786.7M920.2 818.9V786.7M923.7 818.9V786.7M925.8 818.9V786.7M927.9 818.9V786.7M930 818.9V786.7M932.1 818.9V786.7M934.2 818.9V786.7M934.9 818.9V786.7M938.5 818.9V786.7M941.3 818.9V786.7M944.8 818.9V786.7M946.9 818.9V786.7M951.1 818.9V786.7M953.2 818.9V786.7M955.3 818.9V786.7M956 818.9V786.7M958.8 818.9V786.7M961.6 818.9V786.7M965.8 818.9V786.7M970.8 818.9V786.7M977.8 818.9V786.7M982.7 818.9V786.7M988 818.9V786.7M992.5 818.9V786.7M1043.8 818.9V786.7M1048.7 818.9V786.7M1065.3 818.9V786.7M1071.9 818.9V786.7M1078.9 818.9V786.7M1081.1 818.9V786.7M1086.7 818.9V786.7M1091.9 818.9V786.7M1097.1 818.9V786.7M1107 818.9V786.7M1114 818.9V786.7M1119.6 818.9V786.7M1125.2 818.9V786.7M1132 818.9V786.7M1135.1 818.9V786.7M1139.7 818.9V786.7M1144.9 818.9V786.7M1148.1 818.9V786.7M1151.3 818.9V786.7M1153 818.9V786.7M1158.9 818.9V786.7M1162.2 818.9V786.7M1167.1 818.9V786.7M1172.7 818.9V786.7M1175.2 818.9V786.7M1180.8 818.9V786.7M1191.7 818.9V786.7M1205 818.9V786.7M1208.5 818.9V786.7M1212.7 818.9V786.7M1221.6 818.9V786.7M1226.8 818.9V786.7M1232 818.9V786.7M1238.4 818.9V786.7M1241.8 818.9V786.7M1260.9 818.9V786.7" stroke="#7b7c7e" stroke-width="2.0" fill="none"/>
<line x1="726" y1="818.9" x2="1329" y2="818.9" stroke="#7b7c7e" stroke-width="2" />
<path d="M909.4 885.9V853.7M913.2 885.9V853.7M915 885.9V853.7M918.8 885.9V853.7M920.9 885.9V853.7M925.1 885.9V853.7M926.8 885.9V853.7M930 885.9V853.7M932.8 885.9V853.7M934.9 885.9V853.7M936.3 885.9V853.7M941.3 885.9V853.7M943.4 885.9V853.7M947.6 885.9V853.7M949.7 885.9V853.7M953.2 885.9V853.7M955.3 885.9V853.7M957.4 885.9V853.7M960.9 885.9V853.7M963 885.9V853.7M965.8 885.9V853.7M972.2 885.9V853.7M985.5 885.9V853.7M990 885.9V853.7M1003.8 885.9V853.7M1020.3 885.9V853.7M1032.6 885.9V853.7M1034.7 885.9V853.7M1038.9 885.9V853.7M1041.4 885.9V853.7M1044.5 885.9V853.7M1048 885.9V853.7M1051.5 885.9V853.7M1055 885.9V853.7M1059.2 885.9V853.7M1062.8 885.9V853.7M1068.4 885.9V853.7M1070.5 885.9V853.7M1075.1 885.9V853.7M1079.6 885.9V853.7M1080.7 885.9V853.7M1086.3 885.9V853.7M1089.8 885.9V853.7M1095.4 885.9V853.7M1099 885.9V853.7M1103.2 885.9V853.7M1108.1 885.9V853.7M1115.8 885.9V853.7M1117.9 885.9V853.7M1124.7 885.9V853.7M1129.9 885.9V853.7M1133.7 885.9V853.7M1137.9 885.9V853.7M1141.1 885.9V853.7M1147.1 885.9V853.7M1151.3 885.9V853.7M1161.5 885.9V853.7M1166 885.9V853.7M1171.6 885.9V853.7M1175.2 885.9V853.7M1180.8 885.9V853.7M1187.4 885.9V853.7M1194 885.9V853.7M1203.9 885.9V853.7M1221.2 885.9V853.7" stroke="#7b7c7e" stroke-width="2.0" fill="none"/>
<line x1="726" y1="885.9" x2="1329" y2="885.9" stroke="#7b7c7e" stroke-width="2" />
<path d="M326.9,1221.5 L455.4,1221.5 L510.1,1275.2 L586,1275.2" fill="none" stroke="#212121" stroke-width="4" stroke-linejoin="round" />
<path d="M326.9,1264.9 L455.4,1264.9 L512,1320 Q517,1325.4 522,1325.3 L586,1323.9" fill="none" stroke="#212121" stroke-width="4.0" stroke-linejoin="round"/>
<path d="M326.9,1303.7 L457.5,1303.7 L500,1346 Q508,1356.5 518.6,1356.5 L586,1356.5" fill="none" stroke="#212121" stroke-width="4.0" stroke-linejoin="round"/>
<path d="M708.8,1227.1 L837.8,1227.1 L878,1260.7 L944.3,1260.7 L964.5,1280.4 L1130.1,1280.4" fill="none" stroke="#212121" stroke-width="4" stroke-linejoin="round" />
<path d="M708.8,1270 L837.8,1270 L886.2,1300 L991.5,1300 L1028.3,1325 L1130,1325" fill="none" stroke="#212121" stroke-width="4" stroke-linejoin="round" />
<path d="M708.8,1313.6 L837.8,1313.6 L879,1343.4 L1056,1343.4 L1076.9,1356.9 L1130,1356.9" fill="none" stroke="#212121" stroke-width="4" stroke-linejoin="round" />
<line x1="759.1" y1="1237.2" x2="759.1" y2="1263" stroke="#777777" stroke-width="2" stroke-dasharray="3.6 3.7"/>
<line x1="760" y1="1279" x2="760" y2="1305.6" stroke="#777777" stroke-width="2" stroke-dasharray="3.8 3.8"/>
<line x1="455.8" y1="1550.5" x2="455.8" y2="1189.9" stroke="#212121" stroke-width="5.8" stroke-dasharray="3.9 4.4"/>
<line x1="837.8" y1="1550.5" x2="837.8" y2="1197.9" stroke="#212121" stroke-width="5.8" stroke-dasharray="3.9 4.4"/>
<rect x="1156" y="1306.3" width="8.5" height="55.7" fill="#212121"/>
<path d="M327.6,1411.1 L326.6,1411.1 L326.6,1550.2 L585.2,1550.2" fill="none" stroke="#212121" stroke-width="2.2" stroke-linejoin="round" />
<line x1="326.6" y1="1411.1" x2="332.6" y2="1411.1" stroke="#212121" stroke-width="2.2" />
<line x1="326.6" y1="1444.9" x2="332.6" y2="1444.9" stroke="#212121" stroke-width="2.2" />
<line x1="326.6" y1="1479.4" x2="332.6" y2="1479.4" stroke="#212121" stroke-width="2.2" />
<line x1="326.6" y1="1515" x2="332.6" y2="1515" stroke="#212121" stroke-width="2.2" />
<line x1="391.7" y1="1550.2" x2="391.7" y2="1544.2" stroke="#212121" stroke-width="2.2" />
<line x1="455.7" y1="1550.2" x2="455.7" y2="1544.2" stroke="#212121" stroke-width="2.2" />
<line x1="520" y1="1550.2" x2="520" y2="1544.2" stroke="#212121" stroke-width="2.2" />
<line x1="585.2" y1="1550.2" x2="585.2" y2="1544.2" stroke="#212121" stroke-width="2.2" />
<path d="M709.8,1411.1 L708.8,1411.1 L708.8,1550.2 L1130.2,1550.2" fill="none" stroke="#212121" stroke-width="2.2" stroke-linejoin="round" />
<line x1="708.8" y1="1411.1" x2="714.8" y2="1411.1" stroke="#212121" stroke-width="2.2" />
<line x1="708.8" y1="1444.9" x2="714.8" y2="1444.9" stroke="#212121" stroke-width="2.2" />
<line x1="708.8" y1="1479.4" x2="714.8" y2="1479.4" stroke="#212121" stroke-width="2.2" />
<line x1="708.8" y1="1515" x2="714.8" y2="1515" stroke="#212121" stroke-width="2.2" />
<line x1="774.3" y1="1550.2" x2="774.3" y2="1544.2" stroke="#212121" stroke-width="2.2" />
<line x1="838" y1="1550.2" x2="838" y2="1544.2" stroke="#212121" stroke-width="2.2" />
<line x1="902.2" y1="1550.2" x2="902.2" y2="1544.2" stroke="#212121" stroke-width="2.2" />
<line x1="967" y1="1550.2" x2="967" y2="1544.2" stroke="#212121" stroke-width="2.2" />
<line x1="1033.3" y1="1550.2" x2="1033.3" y2="1544.2" stroke="#212121" stroke-width="2.2" />
<line x1="1094.9" y1="1550.2" x2="1094.9" y2="1544.2" stroke="#212121" stroke-width="2.2" />
<path d="M326.89,1431.14 L332.64,1429.03 L335.22,1429.94 L336.75,1435.05 L339.31,1435.75 L343.54,1435.9 L346.7,1435.32 L348.99,1431.76 L351.51,1431.53 L353.9,1428.6 L356.61,1423.9 L360.66,1427.84 L364.06,1428.3 L366.97,1433.11 L369.03,1437.81 L371.26,1441.35 L373.67,1438.66 L376.53,1436.79 L379.32,1437.11 L380.7,1440.49 L383.96,1444.2 L386.08,1445.74 L388.46,1447.98 L390.8,1450.6 L393.6,1453.59 L396.52,1451.97 L399.53,1450.47 L401.11,1450.52 L403.13,1455.79 L404.99,1457.22 L406.56,1458.78 L408.5,1462.64 L410.09,1463.83 L413.02,1469.62 L414.36,1471.84 L416.99,1472.58 L418.53,1477.64 L420.9,1478.39 L422.26,1481.47 L424.06,1485.46 L427.66,1489.24 L430.61,1491 L431.71,1491.19 L433.4,1494.18 L434.26,1498.53 L436.09,1500.86 L436.75,1506.28 L438.66,1509.95 L440.94,1511.47 L441.99,1515.3 L443.79,1518.93 L445.27,1522.38 L449.1,1523.12 L451.85,1524.9 L454.99,1524.66 L457.37,1529.13 L458.36,1531.27 L459.7,1536.86 L462.96,1537.34 L467.43,1535.93 L471.15,1537.59 L474.95,1537.99 L478.72,1540 L481.63,1538.59 L486.18,1542.95 L489.43,1542.79 L493.61,1543.82 L496.14,1541.55 L498.94,1540.21 L501.66,1537.26 L505.03,1533.89 L508.55,1537.69 L512.01,1537.58 L516.36,1539.16 L517.12,1536.59 L519.24,1532.33 L520.29,1529.87 L522.4,1527 L523.93,1522.94 L524.8,1521.28 L526.48,1517.38 L526.71,1513.06 L528.09,1510.02 L529.44,1508.83 L529.71,1503.77 L531.48,1501.67 L532.49,1497.46 L532.7,1494.03 L534.52,1490.7 L535,1487.9 L536.1,1484.61 L537.93,1480.74 L538.06,1480.19 L540.34,1477.27 L541.03,1474.09 L542.85,1468.69 L543.86,1467.6 L544.99,1463.52 L545.77,1459.88 L546.92,1455.95 L548.58,1453.58 L550.07,1449.74 L552.62,1449.39 L555.08,1447.6 L557.48,1444.15 L558.85,1442.25 L561.47,1438.39 L564.5,1436.68 L568.1,1437.4 L572.23,1434.89 L575.2,1433.21 L578.87,1429.6 L581.32,1430.73 L584.14,1435.71 L586.7,1437.7" fill="none" stroke="#212121" stroke-width="4.4" stroke-linejoin="miter" stroke-miterlimit="2" stroke-linecap="round" />
<path d="M710.45,1431.37 L713.85,1433.87 L716.99,1435.65 L719.33,1436.44 L723.63,1439.28 L726.78,1436.21 L729.46,1435.29 L731.37,1433.6 L732.56,1429.71 L734.7,1429.21 L737.1,1424.05 L738.96,1421.24 L740.87,1423.94 L742.27,1429.06 L744.65,1429.69 L747.71,1435.13 L749.01,1438.74 L751.45,1441.17 L754.7,1439.31 L758.93,1436.69 L762.21,1437.29 L764.6,1439.6 L767.37,1442.01 L769.99,1447.06 L772.07,1450.64 L774.91,1452.79 L780.03,1451.99 L783.98,1450.64 L785.91,1452.74 L787.69,1456.09 L788.88,1462.18 L789.46,1465.46 L791.34,1468.25 L793.21,1468.85 L795.72,1474.06 L798.04,1475.72 L801.22,1478.61 L803.24,1479.46 L806.18,1483.53 L808.4,1486.17 L811.96,1489.25 L812.28,1493.19 L813.58,1494.92 L815.43,1500.44 L816.57,1503.74 L818.27,1505.06 L819.46,1507.91 L820.63,1511.1 L822.83,1517.09 L824.94,1517.71 L828.68,1522.91 L831.64,1523.81 L835.51,1527.54 L838.05,1529.9 L840.27,1535.13 L842.99,1535.58 L846.71,1536.22 L851.13,1539.29 L855.56,1539.22 L857.99,1539.02 L861.11,1541.27 L864.35,1540.95 L868.83,1543.43 L872.44,1543.35 L875.49,1545.43 L877.77,1541.76 L879.98,1539.02 L882.25,1539.44 L885.25,1536.01 L888.33,1536.28 L891.47,1537.27 L895.94,1540.38 L896.55,1537.02 L898.17,1533.62 L899.16,1530.73 L899.92,1527.45 L900.94,1523.65 L902.64,1521.21 L903.19,1518.93 L904.74,1514.66 L905.09,1511.45 L906.5,1508.75 L908.02,1505.99 L909.5,1502.71 L910.4,1499 L912.13,1496.37 L912.92,1493.2 L914.8,1489.48 L916.19,1487.12 L916.9,1482.53 L917.74,1480.3 L919.92,1475.93 L921.06,1473.83 L922.54,1469.21 L924.03,1467.65 L925.32,1464.27 L926.7,1462.53 L928.14,1459.49 L928.84,1454.82 L930.77,1453.52 L931.93,1450.77 L933.86,1445.83 L936.53,1443.92 L938.88,1441.13 L942.06,1438.78 L944.77,1435.81 L947.96,1434.42 L951.73,1433.89 L954.89,1433.69 L958.2,1430.9 L962.03,1429.11 L964.24,1432.86 L966.95,1432.72 L969.5,1436.6" fill="none" stroke="#212121" stroke-width="4.4" stroke-linejoin="miter" stroke-miterlimit="2" stroke-linecap="round" />
<path d="M708.76,1447.59 L710.77,1446.51 L713.01,1442.68 L716.48,1438.66 L719.07,1438.37 L721.45,1435.61 L724.91,1433.18 L727.6,1429.57 L729.69,1426.76 L734.01,1427.36 L738.11,1424.88 L741.36,1426.79 L744.52,1427.33 L746.96,1431.72 L748.41,1432.68 L749.97,1436.07 L751.74,1440.99 L755.64,1439.74 L760.46,1435.58 L762.35,1438.97 L764.43,1440.76 L767.99,1441.76 L770.12,1443.79 L773.43,1447.93 L776.31,1446.76 L779.5,1450.13 L781.42,1451.87 L784,1457.75 L785.9,1459.27 L788.17,1461.5 L790.1,1464.95 L792.63,1469.97 L794.47,1471.18 L797.63,1472.38 L799.72,1477.58 L803.1,1477.79 L805.25,1483.44 L807.18,1485.36 L809.45,1487.57 L812.21,1491.29 L814.33,1492.68 L815.82,1498.16 L818.1,1499.84 L819.48,1504.56 L821.29,1504.46 L823.16,1508.45 L824.32,1511.08 L825.93,1514.44 L828.01,1517.66 L830.52,1520.41 L832.93,1522.65 L836.37,1523.99 L838.25,1525.86 L840.29,1529.09 L841.68,1533.49 L843.31,1528.34 L845.28,1525.08 L846.48,1521.2 L848.11,1518.23 L848.96,1524.02 L850.91,1527.43 L854.06,1528.84 L855.06,1529.59 L857.48,1533.14 L860.13,1537.49 L863.83,1536.18 L868.07,1537.51 L871.5,1540.18 L874.24,1536.11 L875.94,1535.65 L878.32,1532.13 L880.46,1528.94 L882.04,1527.84 L884.02,1523.92 L884.87,1519.46 L887.17,1516.82 L889.07,1513.5 L891.04,1510.91 L893.22,1513.5 L896.85,1517.46 L899.87,1518.95 L902.98,1522.93 L906.04,1524.41 L908.43,1526.08 L912.47,1526.14 L915.69,1524.35 L919.82,1521.08 L923.17,1520.83 L925.14,1518.74 L928.03,1514.06 L930.39,1512.5 L932.52,1510.4 L934.38,1507.61 L937.15,1505.81 L940.21,1504.1 L944.04,1501.93 L947.45,1498.52 L949.85,1497.7 L952.68,1494.37 L954.68,1491.01 L956.89,1493.91 L957.8,1497.39 L959.85,1500.89 L960.88,1504.58 L962.81,1507.53 L963.99,1511 L966.25,1514 L968.28,1516.46 L968.58,1511.78 L970.08,1510.02 L971.38,1505.1 L972.63,1501.63 L974.98,1501.24 L975.65,1497.35 L977.11,1493.51 L978.34,1490.73 L981.35,1492.09 L984.85,1494.46 L987.93,1499.42 L990.83,1497.73 L995.16,1498.58 L997.9,1502.13 L1001.89,1499.51 L1004.8,1499.08 L1008.66,1500.16 L1011.01,1502.94 L1012.47,1506.24 L1013.98,1509.03 L1015.63,1509.22 L1016.4,1512.53 L1018.28,1516.14 L1019.52,1520.08 L1021.66,1521.04 L1023.6,1524.81 L1026.08,1528.12 L1027.96,1529.86 L1030,1533.27 L1031.8,1536.94 L1032.61,1534.3 L1033.95,1529.28 L1034.69,1526.74 L1035.26,1524.42 L1036.41,1522.13 L1037.16,1516.8 L1037.71,1514.01 L1037.86,1511.53 L1039.18,1509.35 L1039.79,1506.07 L1040.77,1500.59 L1041.77,1498.06 L1042.3,1494.25 L1042.43,1493.84 L1043.22,1488.24 L1044.12,1484.94 L1045.67,1484.69 L1046.22,1479.65 L1047.26,1476.87 L1047.11,1474.34 L1048.13,1469.86 L1051.65,1472.03 L1055.05,1474.56 L1059.44,1476.23 L1059.91,1473.31 L1061.42,1469.37 L1063.94,1466.72 L1065.49,1463.68 L1066.23,1458.44 L1067.94,1456.88 L1069.68,1452.93 L1072.3,1450.16 L1074.12,1447.97 L1076.51,1443.48 L1077.24,1443.13 L1079.44,1438.19 L1080.42,1435.79 L1082.53,1435.25 L1083.76,1430.25 L1088.27,1433.35 L1092.42,1437.6 L1095.86,1436.89 L1098.66,1434.99 L1102.37,1436.28 L1104.21,1433.87 L1107.06,1430.48 L1109.25,1428.64 L1110.5,1423.53 L1112.65,1427.86 L1113.93,1429 L1114.59,1434.39 L1115.78,1436.55 L1117.49,1437.95 L1117.57,1443.13 L1120.9,1439.24 L1123.9,1437.71 L1125.76,1435.95 L1128.9,1434.8" fill="none" stroke="#212121" stroke-width="4.2" stroke-linejoin="miter" stroke-miterlimit="2" stroke-linecap="butt" stroke-dasharray="4.5 3.5"/>
<rect x="1166.3" y="1459.3" width="237" height="77" fill="none" stroke="#212121" stroke-width="2"/>
<line x1="1179.9" y1="1481.9" x2="1229.7" y2="1481.9" stroke="#212121" stroke-width="6" />
<line x1="1184.3" y1="1515" x2="1229.7" y2="1515" stroke="#212121" stroke-width="6.4" stroke-dasharray="4.6 4.4"/>
<line x1="390.5" y1="36.2" x2="390.5" y2="922" stroke="#212121" stroke-width="2.4" stroke-dasharray="5.4 7.94" stroke-dashoffset="0"/>
<line x1="516.2" y1="36.2" x2="576.8" y2="36.2" stroke="#212121" stroke-width="2.2" stroke-dasharray="5.4 7.94" stroke-dashoffset="0"/>
<line x1="516.2" y1="919.4" x2="576.8" y2="919.4" stroke="#212121" stroke-width="2.2" stroke-dasharray="5.4 7.94" stroke-dashoffset="8.54"/>
<line x1="516.2" y1="36.2" x2="516.2" y2="919.4" stroke="#212121" stroke-width="2.4" stroke-dasharray="5.4 7.94" stroke-dashoffset="5.4"/>
<line x1="576.8" y1="36.2" x2="576.8" y2="919.4" stroke="#212121" stroke-width="2.4" stroke-dasharray="5.4 7.94" stroke-dashoffset="0.5"/>
<line x1="265.8" y1="304" x2="645" y2="304" stroke="#212121" stroke-width="2.2" stroke-dasharray="5.4 7.94" stroke-dashoffset="0.6"/>
<line x1="265.8" y1="396.3" x2="645" y2="396.3" stroke="#212121" stroke-width="2.2" stroke-dasharray="5.4 7.94" stroke-dashoffset="0.6"/>
<line x1="265.8" y1="746.9" x2="645" y2="746.9" stroke="#212121" stroke-width="2.2" stroke-dasharray="5.4 7.94" stroke-dashoffset="0.6"/>
<line x1="265.8" y1="885.3" x2="645" y2="885.3" stroke="#212121" stroke-width="2.2" stroke-dasharray="5.4 7.94" stroke-dashoffset="0.6"/>
<line x1="900.6" y1="71.6" x2="900.6" y2="918" stroke="#212121" stroke-width="2.4" stroke-dasharray="5.2 8.14" stroke-dashoffset="0"/>
<line x1="1125" y1="71" x2="1234.8" y2="71" stroke="#212121" stroke-width="2.2" stroke-dasharray="5.4 7.9" stroke-dashoffset="0"/>
<line x1="1125" y1="922.6" x2="1234.8" y2="922.6" stroke="#212121" stroke-width="2.2" stroke-dasharray="5.4 7.9" stroke-dashoffset="4.07"/>
<line x1="1125" y1="71" x2="1125" y2="922.6" stroke="#212121" stroke-width="2.4" stroke-dasharray="5.4 7.9" stroke-dashoffset="3.08"/>
<line x1="1234.8" y1="71" x2="1234.8" y2="922.6" stroke="#212121" stroke-width="2.4" stroke-dasharray="5.4 7.9" stroke-dashoffset="0"/>
<g fill="#212121">
<text x="48.8" y="311.3" font-size="33.5" >Gaze velocity</text>
<text x="47.8" y="400.7" font-size="33.5" >Head velocity</text>
<text x="30.5" y="478.4" font-size="33.5" >a</text>
<text x="48.8" y="755.8" font-size="33.5" >Gaze velocity</text>
<text x="48.4" y="888.9" font-size="33.5" >Head velocity</text>
<text x="30.1" y="1091" font-size="33.5" >b</text>
<text x="927" y="516" font-size="33.5" >Unit activity</text>
<rect x="740.4" y="930.2" width="130.5" height="4.2" fill="#212121"/>
<text x="754.8" y="972.9" font-size="33.5" >100</text>
<text x="815.4" y="972.9" font-size="33.5" >ms</text>
<text x="1122.6" y="964.8" font-size="33.5" font-style="italic">P</text>
<text x="1151.3" y="964.8" font-size="33.5" >&lt;</text>
<text x="1176.6" y="964.8" font-size="33.5" >0.05</text>
<text x="486.6" y="964.3" font-size="33.5" font-style="italic">P</text>
<text x="515.9" y="964.3" font-size="33.5" >&lt;</text>
<text x="545" y="964.3" font-size="33.5" >0.05</text>
<path d="M956.6,901.5 L966.5,930.2 L961.2,930.2 L961.2,958.6 L952,958.6 L952,930.2 L946.7,930.2Z" fill="#fff" stroke="#212121" stroke-width="1.8" stroke-linejoin="miter"/>
<path d="M984,901.5 L994.6,930.8 L989.7,930.8 L989.7,958.6 L978.3,958.6 L978.3,930.8 L973.4,930.8Z" fill="#212121" stroke="#212121" stroke-width="1.2" stroke-linejoin="round"/>
<path d="M421.6,928.8 L427.5,945.6 L424.6,945.6 L424.6,961.2 L418.6,961.2 L418.6,945.6 L415.7,945.6Z" fill="#fff" stroke="#212121" stroke-width="1.8" stroke-linejoin="miter"/>
<path d="M437.2,928.8 L443.7,945.6 L440.8,945.6 L440.8,961.2 L433.6,961.2 L433.6,945.6 L430.7,945.6Z" fill="#212121" stroke="#212121" stroke-width="1.2" stroke-linejoin="round"/>
<path d="M322,968 V1024.6 H394.3" fill="none" stroke="#212121" stroke-width="4"/>
<text x="188.1" y="1009.9" font-size="33.5" >200°</text>
<text x="263.9" y="1009.9" font-size="33.5" >s</text>
<text x="280.2" y="1000.9" font-size="22" >−1</text>
<text x="319.3" y="1065" font-size="33.5" >100</text>
<text x="379.3" y="1065" font-size="33.5" >ms</text>
<text x="398.3" y="1164" font-size="33.5" >Control</text>
<text x="789.7" y="1163.6" font-size="33.5" >Perturbed</text>
<text x="51.2" y="1251.5" font-size="33.5" >Gaze position</text>
<text x="342.6" y="1344.3" font-size="33.5" font-style="italic">n</text>
<text x="364.1" y="1344.3" font-size="33.5" >=</text>
<text x="388.8" y="1344.3" font-size="33.5" >103</text>
<text x="715.7" y="1349.8" font-size="33.5" font-style="italic">n</text>
<text x="736.6" y="1349.8" font-size="33.5" >=</text>
<text x="763.1" y="1349.8" font-size="33.5" >97</text>
<text x="1176" y="1351.9" font-size="33.5" >50°</text>
<text x="24.9" y="1495.4" font-size="33.5" >Frequency (Hz)</text>
<text x="382.6" y="1634.4" font-size="33.5" >Time (ms)</text>
<text x="30.5" y="1632.3" font-size="33.5" >c</text>
<text x="274.95" y="1425.1" font-size="33.5" >80</text>
<text x="274.95" y="1492.7" font-size="33.5" >40</text>
<text x="293.4" y="1558.4" font-size="33.5" >0</text>
<text x="317.1" y="1585.8" font-size="33.5" >0</text>
<text x="430" y="1585.8" font-size="33.5" >400</text>
<text x="557.1" y="1586" font-size="33.5" >800</text>
<text x="658.1" y="1430" font-size="33.5" >80</text>
<text x="658.1" y="1497.2" font-size="33.5" >40</text>
<text x="676.5" y="1563.9" font-size="33.5" >0</text>
<text x="700.7" y="1585.8" font-size="33.5" >0</text>
<text x="814.6" y="1585.8" font-size="33.5" >400</text>
<text x="941.1" y="1586" font-size="33.5" >800</text>
<text x="1059.4" y="1586" font-size="33.5" >1200</text>
<text x="1240" y="1494.2" font-size="33.5" >Control</text>
<text x="1240" y="1527.1" font-size="33.5" >Perturbed</text>
</g>
</svg></body></html>
